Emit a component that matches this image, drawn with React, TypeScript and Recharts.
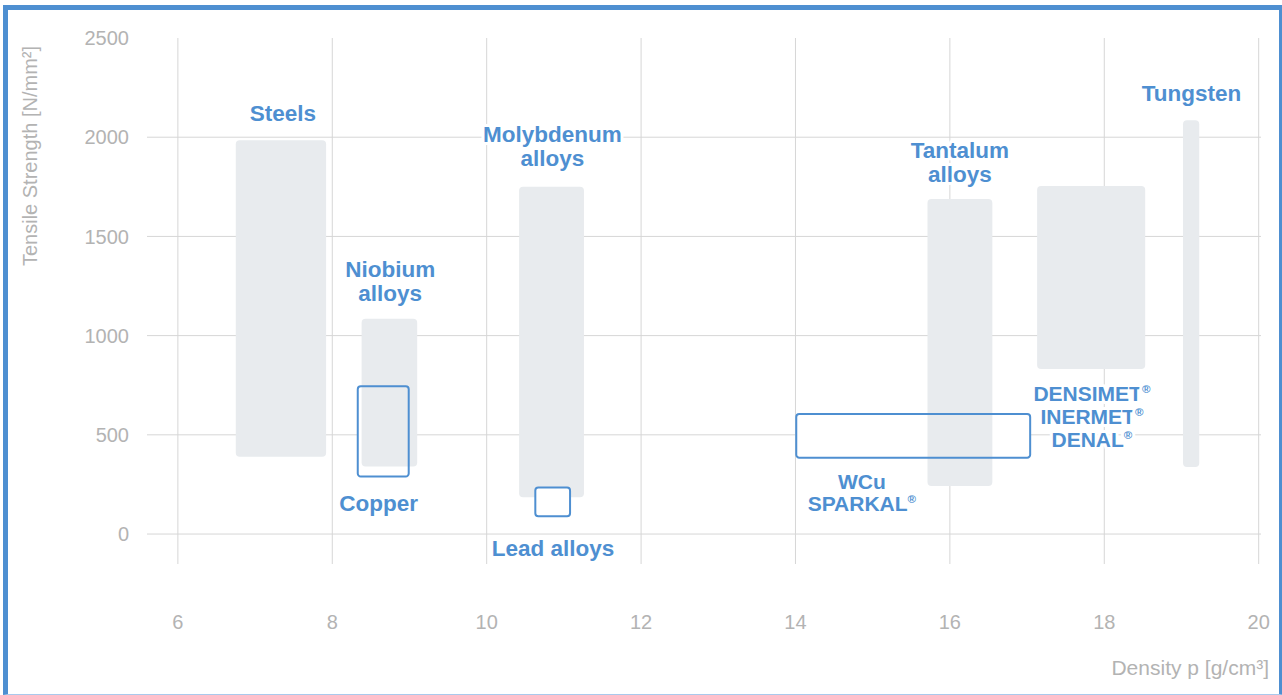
import React from 'react';
import {
  ComposedChart,
  XAxis,
  YAxis,
  CartesianGrid,
  ReferenceArea,
  Scatter,
} from 'recharts';

// filled ranges (grey boxes)
const rangeNames = ['Steels', 'Niobium alloys', 'Molybdenum alloys', 'Tantalum alloys', 'DENSIMET', 'Tungsten'];
const rangeDensityMin = [6.75, 8.38, 10.42, 15.71, 17.13, 19.02];
const rangeDensityMax = [7.92, 9.1, 11.26, 16.55, 18.53, 19.23];
const rangeStrengthMin = [390, 340, 185, 242, 832, 338];
const rangeStrengthMax = [1985, 1085, 1750, 1688, 1754, 2086];

// outlined ranges
const outlineNames = ['Copper', 'Lead alloys', 'WCu'];
const outlineDensityMin = [8.33, 10.63, 14.01];
const outlineDensityMax = [8.99, 11.08, 17.04];
const outlineStrengthMin = [290, 90, 385];
const outlineStrengthMax = [745, 235, 605];

// text labels
const labelLines = [
  ['Steels'],
  ['Niobium', 'alloys'],
  ['Copper'],
  ['Molybdenum', 'alloys'],
  ['Lead alloys'],
  ['Tantalum', 'alloys'],
  ['Tungsten'],
  ['WCu', 'SPARKAL®'],
  ['DENSIMET®', 'INERMET®', 'DENAL®'],
];
const labelDensity = [7.36, 8.75, 8.6, 10.85, 10.86, 16.13, 19.13, 14.86, 17.84];
const labelStrength = [2124, 1336, 156, 2016, -71, 1935, 2223, 267, 711];

const xTicks = [6, 8, 10, 12, 14, 16, 18, 20];
const yTicks = [0, 500, 1000, 1500, 2000, 2500];
const yGrid = [0, 500, 1000, 1500, 2000];

const BLUE = '#4e8fd1';
const GREY_TEXT = '#b3b3b3';
const BOX = '#e8ebee';
const FONT = "'Liberation Sans', Arial, Helvetica, sans-serif";

const labelData = labelLines.map((lines, i) => ({
  x: labelDensity[i],
  y: labelStrength[i],
  lines,
}));

function LabelShape(props: any) {
  const { cx, cy, payload } = props;
  const lines: string[] = payload.lines;
  const small = lines.length === 3 || lines[0] === 'WCu';
  const fs = small ? 21 : 22.5;
  const lh = lines.length === 3 ? 23 : small ? 22 : 23.5;
  return (
    <g>
      {lines.map((line, i) => {
        const reg = line.endsWith('®');
        const txt = reg ? line.slice(0, -1) : line;
        return (
          <text
            key={i}
            x={cx}
            y={cy + fs * 0.36 + i * lh}
            textAnchor="middle"
            fontFamily={FONT}
            fontWeight="bold"
            fontSize={fs}
            fill={BLUE}
            stroke="#fff"
            strokeWidth={6}
            strokeLinejoin="round"
            style={{ paintOrder: 'stroke' }}
          >
            {txt}
            {reg && (
              <tspan fontSize={fs * 0.55} dy={-fs * 0.38}>
                ®
              </tspan>
            )}
          </text>
        );
      })}
    </g>
  );
}

export default function App() {
  return (
    <div
      style={{
        position: 'absolute',
        left: 0,
        top: 0,
        width: 1282,
        height: 695,
        overflow: 'hidden',
        background: '#fff',
      }}
    >
      <div
        style={{
          position: 'absolute',
          left: 3,
          top: 5,
          width: 1281,
          height: 690,
          boxSizing: 'border-box',
          borderLeft: `5px solid ${BLUE}`,
          borderTop: `5px solid ${BLUE}`,
          borderRight: `5px solid ${BLUE}`,
          borderBottom: '1px solid #a9c9ec',
        }}
      />
      <div style={{ position: 'absolute', left: 0, top: 0 }}>
        <ComposedChart
          width={1282}
          height={695}
          margin={{ top: 38, right: 21, left: 0, bottom: 0 }}
        >
          <CartesianGrid
            stroke="#d6d6d6"
            strokeWidth={1}
            verticalValues={xTicks}
            horizontalValues={yGrid}
          />
          <XAxis
            type="number"
            dataKey="x"
            domain={[5.6, 20.03]}
            ticks={xTicks}
            allowDataOverflow
            axisLine={false}
            tickLine={false}
            tickSize={0}
            tickMargin={51}
            height={131}
            tick={{ fill: GREY_TEXT, fontSize: 20, fontFamily: FONT }}
            label={{
              content: () => (
                <text
                  x={1269}
                  y={675}
                  textAnchor="end"
                  fontFamily={FONT}
                  fontSize={21}
                  fill={GREY_TEXT}
                >
                  Density p [g/cm³]
                </text>
              ),
            }}
          />
          <YAxis
            type="number"
            dataKey="y"
            domain={[-151, 2500]}
            ticks={yTicks}
            allowDataOverflow
            axisLine={false}
            tickLine={false}
            tickSize={0}
            tickMargin={18}
            width={147}
            tick={{ fill: GREY_TEXT, fontSize: 20, fontFamily: FONT }}
            label={{
              content: () => (
                <text
                  x={37}
                  y={156}
                  transform="rotate(-90 37 156)"
                  textAnchor="middle"
                  fontFamily={FONT}
                  fontSize={20}
                  fill={GREY_TEXT}
                >
                  Tensile Strength [N/mm²]
                </text>
              ),
            }}
          />

          {/* white backgrounds for copper and WCu outlines */}
          {outlineNames.map((name, i) =>
            name === 'Lead alloys' ? null : (
              <ReferenceArea
                key={`bg-${name}`}
                x1={outlineDensityMin[i]}
                x2={outlineDensityMax[i]}
                y1={outlineStrengthMin[i]}
                y2={outlineStrengthMax[i]}
                fill="#fff"
                fillOpacity={1}
                stroke="none"
                ifOverflow="visible"
              />
            )
          )}

          {rangeNames.map((name, i) => (
            <ReferenceArea
              key={name}
              x1={rangeDensityMin[i]}
              x2={rangeDensityMax[i]}
              y1={rangeStrengthMin[i]}
              y2={rangeStrengthMax[i]}
              fill={BOX}
              fillOpacity={1}
              stroke="none"
              radius={4}
              ifOverflow="visible"
            />
          ))}

          {outlineNames.map((name, i) => (
            <ReferenceArea
              key={`ol-${name}`}
              x1={outlineDensityMin[i]}
              x2={outlineDensityMax[i]}
              y1={outlineStrengthMin[i]}
              y2={outlineStrengthMax[i]}
              fill={name === 'Lead alloys' ? '#fff' : 'none'}
              fillOpacity={1}
              stroke={BLUE}
              strokeWidth={2}
              radius={3}
              ifOverflow="visible"
            />
          ))}

          <Scatter
            data={labelData}
            dataKey="y"
            shape={LabelShape}
            isAnimationActive={false}
          />
        </ComposedChart>
      </div>
    </div>
  );
}
